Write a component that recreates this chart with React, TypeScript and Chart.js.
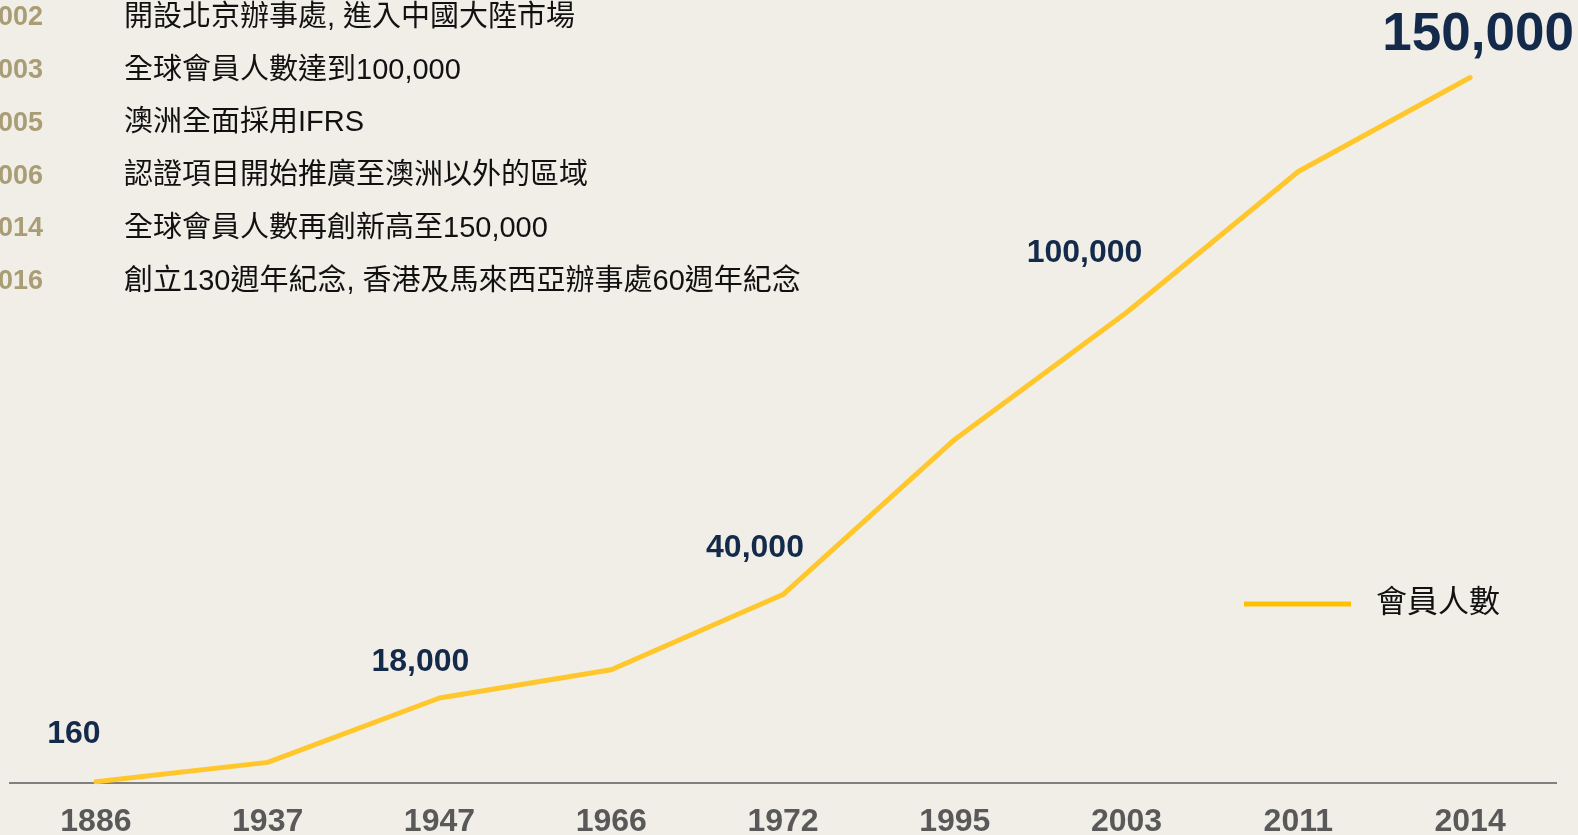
import React, { useEffect, useRef } from 'react';
import { Chart, registerables } from 'chart.js';

Chart.register(...registerables);

// ---- data ----
const years = ['1886', '1937', '1947', '1966', '1972', '1995', '2003', '2011', '2014'];
const members = [160, 4300, 18000, 24000, 40000, 73000, 100000, 130000, 150000];
const pointLabels = ['160', '', '18,000', '', '40,000', '', '100,000', '', '150,000'];
const seriesName = '會員人數';
const milestoneYears = ['2002', '2003', '2005', '2006', '2014', '2016'];
const milestoneTexts = [
  '開設北京辦事處, 進入中國大陸市場',
  '全球會員人數達到100,000',
  '澳洲全面採用IFRS',
  '認證項目開始推廣至澳洲以外的區域',
  '全球會員人數再創新高至150,000',
  '創立130週年紀念, 香港及馬來西亞辦事處60週年紀念',
];

// ---- styles ----
const BG = '#F1EEE8';
const NAVY = '#132A4B';
const GOLD = '#A99D75';
const LINE = '#FFC72C';
const LEGEND_LINE = '#FFC000';
const LATIN = '"Liberation Sans", Arial, "Noto Sans CJK TC"';
const CJK = '"Liberation Sans", "Noto Sans CJK TC"';
const labelOffsets = [
  { dx: -22, dy: -48, size: 32 },
  null,
  { dx: -19, dy: -36, size: 32 },
  null,
  { dx: -28, dy: -46, size: 32 },
  null,
  { dx: -42, dy: -59, size: 32 },
  null,
  { dx: 8, dy: -42, size: 53 },
];

const W = 1578;
const H = 873;

const overlayPlugin = {
  id: 'overlay',
  afterDatasetsDraw(chart: any) {
    const ctx = chart.ctx as CanvasRenderingContext2D;
    const meta = chart.getDatasetMeta(0);
    ctx.save();
    // data labels
    meta.data.forEach((pt: any, i: number) => {
      const txt = pointLabels[i];
      const off = labelOffsets[i];
      if (!txt || !off) return;
      ctx.font = `bold ${off.size}px ${LATIN}`;
      ctx.fillStyle = NAVY;
      ctx.textAlign = 'center';
      ctx.textBaseline = 'middle';
      ctx.fillText(txt, pt.x + off.dx, pt.y + off.dy);
    });
    // milestones list
    const rowY0 = 18;
    const rowStep = 52.7;
    milestoneYears.forEach((y, i) => {
      const yy = rowY0 + i * rowStep;
      ctx.font = `bold 27px ${LATIN}`;
      ctx.fillStyle = GOLD;
      ctx.textAlign = 'right';
      ctx.textBaseline = 'middle';
      ctx.fillText(y, 43, yy);
      ctx.font = `29px ${CJK}`;
      ctx.fillStyle = '#111111';
      ctx.textAlign = 'left';
      ctx.fillText(milestoneTexts[i], 124, yy);
    });
    // legend
    ctx.strokeStyle = LEGEND_LINE;
    ctx.lineWidth = 5;
    ctx.beginPath();
    ctx.moveTo(1244, 604);
    ctx.lineTo(1351, 604);
    ctx.stroke();
    ctx.font = `31px ${CJK}`;
    ctx.fillStyle = '#111111';
    ctx.textAlign = 'left';
    ctx.textBaseline = 'middle';
    ctx.fillText(seriesName, 1376, 603);
    ctx.restore();
  },
};

export default function App() {
  const ref = useRef<HTMLCanvasElement | null>(null);
  useEffect(() => {
    const canvas = ref.current;
    if (!canvas) return;
    const chart = new Chart(canvas, {
      type: 'line',
      data: {
        labels: years,
        datasets: [
          {
            label: seriesName,
            data: members,
            borderColor: LINE,
            backgroundColor: LINE,
            borderWidth: 5,
            pointRadius: 0,
            pointHoverRadius: 0,
            tension: 0,
            borderCapStyle: 'round',
            borderJoinStyle: 'round',
            clip: false,
          } as any,
        ],
      },
      options: {
        responsive: false,
        animation: false,
        devicePixelRatio: 1,
        layout: { padding: { left: 10, right: 22, top: 77.5, bottom: 12 } },
        plugins: {
          legend: { display: false },
          tooltip: { enabled: false },
        },
        scales: {
          x: {
            offset: true,
            grid: { display: false, drawTicks: false },
            border: { display: true, color: '#808080', width: 2 },
            ticks: {
              color: '#595959',
              padding: 20,
              font: { family: '"Liberation Sans Narrow", "Liberation Sans"', size: 32, weight: 'bold' },
              maxRotation: 0,
              autoSkip: false,
            },
          },
          y: {
            display: false,
            min: 0,
            max: 150000,
          },
        },
      },
      plugins: [overlayPlugin],
    });
    return () => chart.destroy();
  }, []);
  return (
    <div
      style={{
        position: 'fixed',
        left: 0,
        top: 0,
        width: W,
        height: 835,
        overflow: 'hidden',
        background: BG,
      }}
    >
      <canvas ref={ref} width={W} height={H} style={{ display: 'block', width: W, height: H }} />
    </div>
  );
}
